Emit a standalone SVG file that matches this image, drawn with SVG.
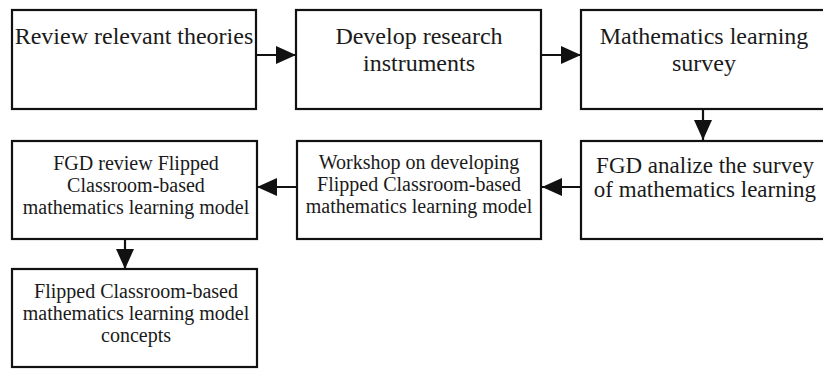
<svg xmlns="http://www.w3.org/2000/svg" width="823" height="369" viewBox="0 0 823 369">
<style>
.box{fill:#fff;stroke:#111;stroke-width:2.2}
.t{font-family:"Liberation Serif","Times New Roman",serif;fill:#1a1a1a;text-anchor:middle}
.big{font-size:24px}
.mid{font-size:23px}
.sm{font-size:20px}
.c{stroke:#111;stroke-width:2.2;fill:none}
</style>
<defs>
<marker id="ah" markerUnits="userSpaceOnUse" markerWidth="20" markerHeight="20" refX="20" refY="9" orient="auto">
<path d="M0,0 L20,9 L0,18 Z" fill="#111"/>
</marker>
</defs>
<rect width="823" height="369" fill="#fff"/>
<g id="connectors">
<line class="c" x1="256" y1="55" x2="296" y2="55" marker-end="url(#ah)"/>
<line class="c" x1="541" y1="55" x2="581" y2="55" marker-end="url(#ah)"/>
<line class="c" x1="703" y1="109" x2="703" y2="140" marker-end="url(#ah)"/>
<line class="c" x1="581" y1="187" x2="542" y2="187" marker-end="url(#ah)"/>
<line class="c" x1="297" y1="187" x2="257" y2="187" marker-end="url(#ah)"/>
<line class="c" x1="125" y1="239" x2="125" y2="269" marker-end="url(#ah)"/>
</g>
<g id="n1">
<rect class="box" x="12" y="10" width="244" height="99"/>
<text class="t big" x="134" y="44">Review relevant theories</text>
</g>
<g id="n2">
<rect class="box" x="296" y="10" width="245" height="99"/>
<text class="t big" x="419" y="44">Develop research</text>
<text class="t big" x="419" y="71">instruments</text>
</g>
<g id="n3">
<rect class="box" x="581" y="10" width="244" height="99"/>
<text class="t big" x="704" y="44">Mathematics learning</text>
<text class="t big" x="704" y="71">survey</text>
</g>
<g id="n4">
<rect class="box" x="581" y="141" width="244" height="98"/>
<text class="t mid" x="705" y="173">FGD analize the survey</text>
<text class="t mid" x="705" y="197">of mathematics learning</text>
</g>
<g id="n5">
<rect class="box" x="297" y="141" width="244" height="98"/>
<text class="t sm" x="419" y="169">Workshop on developing</text>
<text class="t sm" x="419" y="191">Flipped Classroom-based</text>
<text class="t sm" x="419" y="213">mathematics learning model</text>
</g>
<g id="n6">
<rect class="box" x="12" y="141" width="245" height="98"/>
<text class="t sm" x="136" y="170">FGD review Flipped</text>
<text class="t sm" x="136" y="192">Classroom-based</text>
<text class="t sm" x="136" y="214">mathematics learning model</text>
</g>
<g id="n7">
<rect class="box" x="12" y="269" width="245" height="98"/>
<text class="t sm" x="136" y="298">Flipped Classroom-based</text>
<text class="t sm" x="136" y="320">mathematics learning model</text>
<text class="t sm" x="136" y="342">concepts</text>
</g>
</svg>
